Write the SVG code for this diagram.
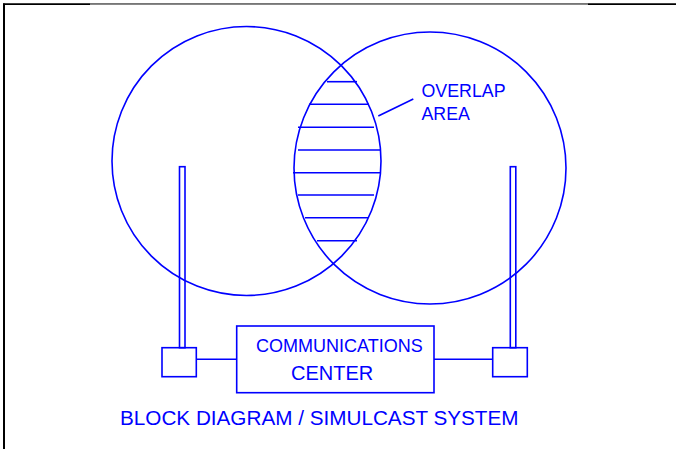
<svg xmlns="http://www.w3.org/2000/svg" width="676" height="449" viewBox="0 0 676 449">
<style>
.s{fill:none;stroke:#0000ff;stroke-width:1.6}
.h{stroke:#0000ff;stroke-width:1.6}
.t{fill:#0000ff;font-family:"Liberation Sans",Arial,sans-serif}
</style>
<rect width="676" height="449" fill="#fff"/>
<g id="frame">
<line x1="3" y1="4.2" x2="676" y2="4.2" stroke="#000" stroke-width="1.8"/>
<line x1="90" y1="4.2" x2="588" y2="4.2" stroke="#888" stroke-width="1.8"/>
<line x1="4" y1="3.5" x2="4" y2="449" stroke="#000" stroke-width="2"/>
</g>
<g id="coverage-left"><circle class="s" cx="246.5" cy="161" r="134.5"/></g>
<g id="coverage-right"><circle class="s" cx="430" cy="168" r="136"/></g>
<g id="overlap-hatch">
<line class="h" x1="327" y1="81.7" x2="357" y2="81.7"/>
<line class="h" x1="309" y1="104.3" x2="369" y2="104.3"/>
<line class="h" x1="298" y1="127.3" x2="374" y2="127.3"/>
<line class="h" x1="298" y1="150" x2="380" y2="150"/>
<line class="h" x1="293" y1="172.7" x2="380" y2="172.7"/>
<line class="h" x1="298" y1="195" x2="374" y2="195"/>
<line class="h" x1="305" y1="217.7" x2="368" y2="217.7"/>
<line class="h" x1="317" y1="240.7" x2="357" y2="240.7"/>
</g>
<g id="overlap-label">
<line class="h" x1="378.3" y1="116" x2="413.3" y2="99"/>
<text class="t" x="421.5" y="96.7" font-size="17.8">OVERLAP</text>
<text class="t" x="421.5" y="120" font-size="17.8">AREA</text>
</g>
<g id="antenna-left">
<rect class="s" x="179.5" y="166.7" width="5.5" height="181"/>
<rect class="s" x="162" y="347.7" width="34.3" height="29"/>
</g>
<g id="antenna-right">
<rect class="s" x="510.3" y="166.7" width="5.5" height="181"/>
<rect class="s" x="492.7" y="347.7" width="34.6" height="29"/>
</g>
<g id="comm-center">
<rect class="s" x="236.7" y="326" width="197.3" height="66.7"/>
<text class="t" x="256" y="351.7" font-size="18">COMMUNICATIONS</text>
<text class="t" x="291" y="380" font-size="20">CENTER</text>
</g>
<g id="connectors">
<line class="h" x1="196.3" y1="359.3" x2="236.7" y2="359.3"/>
<line class="h" x1="434" y1="359.3" x2="492.7" y2="359.3"/>
</g>
<g id="title">
<text class="t" x="120" y="425" font-size="20.7">BLOCK DIAGRAM / SIMULCAST SYSTEM</text>
</g>
</svg>
